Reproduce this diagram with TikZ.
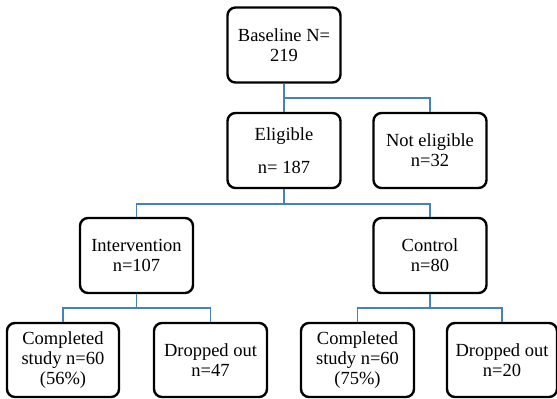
\documentclass[tikz,border=0pt]{standalone}
\usepackage{fontspec}
\setmainfont{Liberation Serif}
\usetikzlibrary{calc}
\definecolor{connblue}{RGB}{70,128,190}
\begin{document}
\begin{tikzpicture}[x=1pt,y=-1pt,
  box/.style={draw=black,line width=2.4pt,rounded corners=8pt,fill=white,
    minimum width=113pt,minimum height=75pt,align=center,inner sep=2pt,
    font=\fontsize{18.5}{20}\selectfont},
  conn/.style={draw=connblue,line width=1.5pt}]
\useasboundingbox (0,0) rectangle (557,399);
\node[box] (base) at (284,45) {Baseline N=\\219};
\node[box] (elig) at (284,150.5) {Eligible\\[13pt]n= 187};
\node[box] (nelig) at (430,150.5) {Not eligible\\n=32};
\node[box] (inter) at (136.5,255.5) {Intervention\\n=107};
\node[box] (ctrl) at (430,255.5) {Control\\n=80};
\node[box,minimum width=112pt,minimum height=74pt] (comp1) at (63,360) {Completed\\study n=60\\(56\%)};
\node[box,minimum height=74pt] (drop1) at (210.5,360) {Dropped out\\n=47};
\node[box,minimum height=74pt] (comp2) at (357.5,360) {Completed\\study n=60\\(75\%)};
\node[box,minimum width=110pt,minimum height=74pt] (drop2) at (502,360) {Dropped out\\n=20};
% connectors
\draw[conn] (base.south) -- (elig.north);
\coordinate (j0) at ($(base.south)!0.5!(elig.north)$);
\draw[conn] (j0) -| (nelig.north);
\draw[conn] (elig.south) -- ++(0,15) coordinate (j1);
\draw[conn] (inter.north) |- (j1) -| (ctrl.north);
\draw[conn] (inter.south) -- ++(0,14) coordinate (j2);
\draw[conn] (comp1.north) |- (j2) -| (drop1.north);
\draw[conn] (ctrl.south) -- ++(0,14) coordinate (j3);
\draw[conn] (comp2.north) |- (j3) -| (drop2.north);
\end{tikzpicture}
\end{document}
